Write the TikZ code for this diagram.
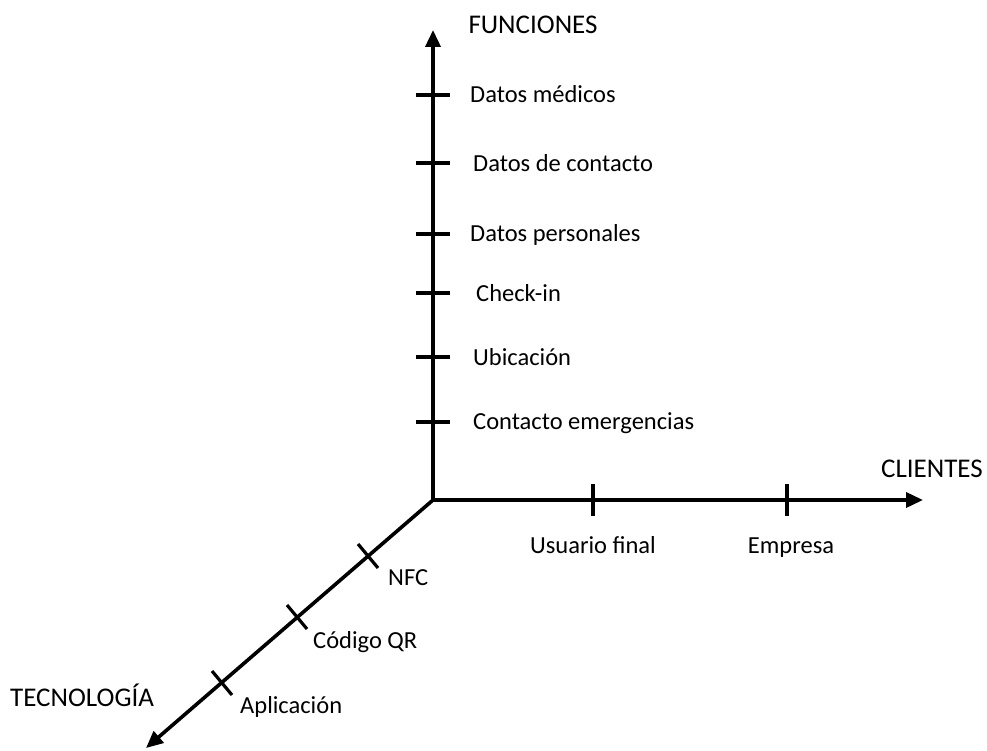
\documentclass[tikz,border=0pt]{standalone}
\usepackage{fontspec}
\setmainfont{Carlito}
\usetikzlibrary{arrows.meta,calc}
\begin{document}
\begin{tikzpicture}[x=1pt,y=-1pt,
  axis/.style={line width=3.6pt,-{Triangle[length=17pt,width=15pt]}},
  tick/.style={line width=3.2pt},
  lab/.style={font=\fontsize{24.5}{29}\selectfont,inner sep=0pt},
  ttl/.style={font=\fontsize{27}{32}\selectfont,inner sep=0pt}]
\useasboundingbox (0,0) rectangle (987,751);
\coordinate (O) at (433,500);
\coordinate (T) at (433,30);
\coordinate (R) at (923,500);
\coordinate (L) at (146,748);
\draw[axis] (O) -- (T);
\draw[axis] (O) -- (R);
\draw[axis,line cap=round] (O) -- (L);
% vertical ticks
\foreach \y/\n in {95/v1,163/v2,234/v3,293/v4,357/v5,422/v6}{
  \coordinate (\n) at (433,\y);
  \draw[tick] ([xshift=-17pt]\n) -- ([xshift=17pt]\n);
}
% horizontal ticks
\foreach \x/\n in {593/h1,787/h2}{
  \coordinate (\n) at (\x,500);
  \draw[tick] ([yshift=-16pt]\n) -- ([yshift=16pt]\n);
}
% diagonal ticks
\foreach \x/\y/\n in {368/556/d1,297/617/d2,222/683/d3}{
  \coordinate (\n) at (\x,\y);
  \draw[tick] ($(\n)+(-10,-12)$) -- ($(\n)+(10,12)$);
}
\node[ttl,anchor=base] (fun) at (533,34) {FUNCIONES};
\node[lab,anchor=base west] (a1) at (470,103) {Datos médicos};
\node[lab,anchor=base west] (a2) at (473,172) {Datos de contacto};
\node[lab,anchor=base west] (a3) at (470,242) {Datos personales};
\node[lab,anchor=base west] (a4) at (476,301) {Check-in};
\node[lab,anchor=base west] (a5) at (473,365) {Ubicación};
\node[lab,anchor=base west] (a6) at (473,429) {Contacto emergencias};
\node[ttl,anchor=base east] (cli) at (983,477) {CLIENTES};
\node[lab,anchor=base] (b1) at (593,553) {Usuario final};
\node[lab,anchor=base] (b2) at (791,553) {Empresa};
\node[lab,anchor=base west] (c1) at (388,585) {NFC};
\node[lab,anchor=base west] (c2) at (313,648) {Código QR};
\node[lab,anchor=base west] (c3) at (240,713) {Aplicación};
\node[ttl,anchor=base west] (tec) at (10,706) {TECNOLOGÍA};
\end{tikzpicture}
\end{document}
